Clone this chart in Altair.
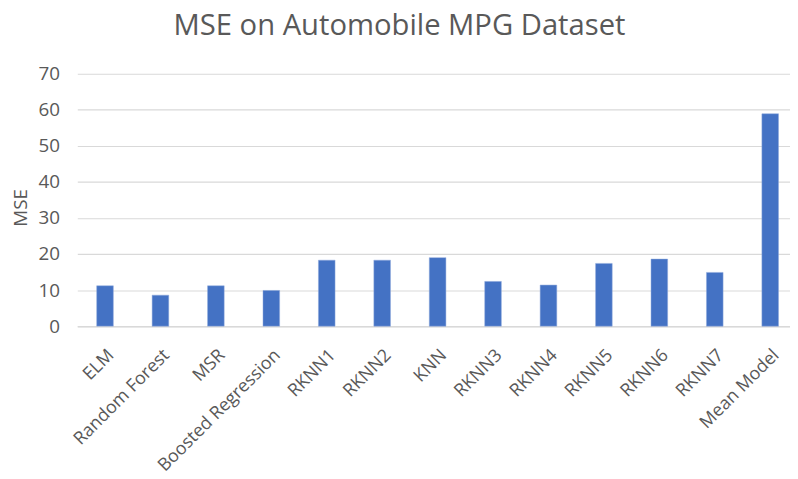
import altair as alt
import pandas as pd

models = ["ELM", "Random Forest", "MSR", "Boosted Regression", "RKNN1", "RKNN2", "KNN",
          "RKNN3", "RKNN4", "RKNN5", "RKNN6", "RKNN7", "Mean Model"]
mse = [11.2, 8.6, 11.2, 9.9, 18.3, 18.3, 19.0, 12.4, 11.4, 17.4, 18.6, 14.9, 58.9]

df = pd.DataFrame({"Model": models, "MSE": mse})

FONT = "Open Sans"
GRAY = "#595959"

chart = alt.Chart(df).mark_bar(color="#4472C4", stroke="#8FAADC", strokeWidth=0.5).encode(
    x=alt.X("Model:N", sort=models, title=None,
            scale=alt.Scale(paddingInner=0.7, paddingOuter=0.35, range=[0, 728]),
            axis=alt.Axis(labelAngle=-45, labelAlign="right", labelBaseline="top",
                          labelFontSize=18, labelColor=GRAY, labelFont=FONT,
                          ticks=False, domainColor="#D9D9D9", domainWidth=1.5,
                          labelPadding=20, labelLimit=400, labelOverlap=False)),
    y=alt.Y("MSE:Q", title="MSE",
            scale=alt.Scale(domain=[0, 70]),
            axis=alt.Axis(values=[0, 10, 20, 30, 40, 50, 60, 70], domain=False, ticks=False,
                          labelFontSize=19, labelColor=GRAY, labelFont=FONT, labelPadding=18,
                          gridColor="#D9D9D9", gridWidth=1.2,
                          titleFontSize=19, titleColor=GRAY, titleFont=FONT,
                          titleFontWeight="normal", titleX=-51, titleY=135,
                          titleBaseline="alphabetic")),
).properties(
    width=719, height=255,
    autosize=alt.AutoSizeParams(type="none"),
    padding={"left": 70, "top": 64, "right": 1, "bottom": 151},
    title=alt.TitleParams("MSE on Automobile MPG Dataset", fontSize=29.5, color=GRAY,
                          font=FONT, fontWeight="normal", anchor="middle", offset=24,
                          dx=-34),
).configure_view(stroke=None)

chart.save("out.html", embed_options={"renderer": "svg", "actions": False})
